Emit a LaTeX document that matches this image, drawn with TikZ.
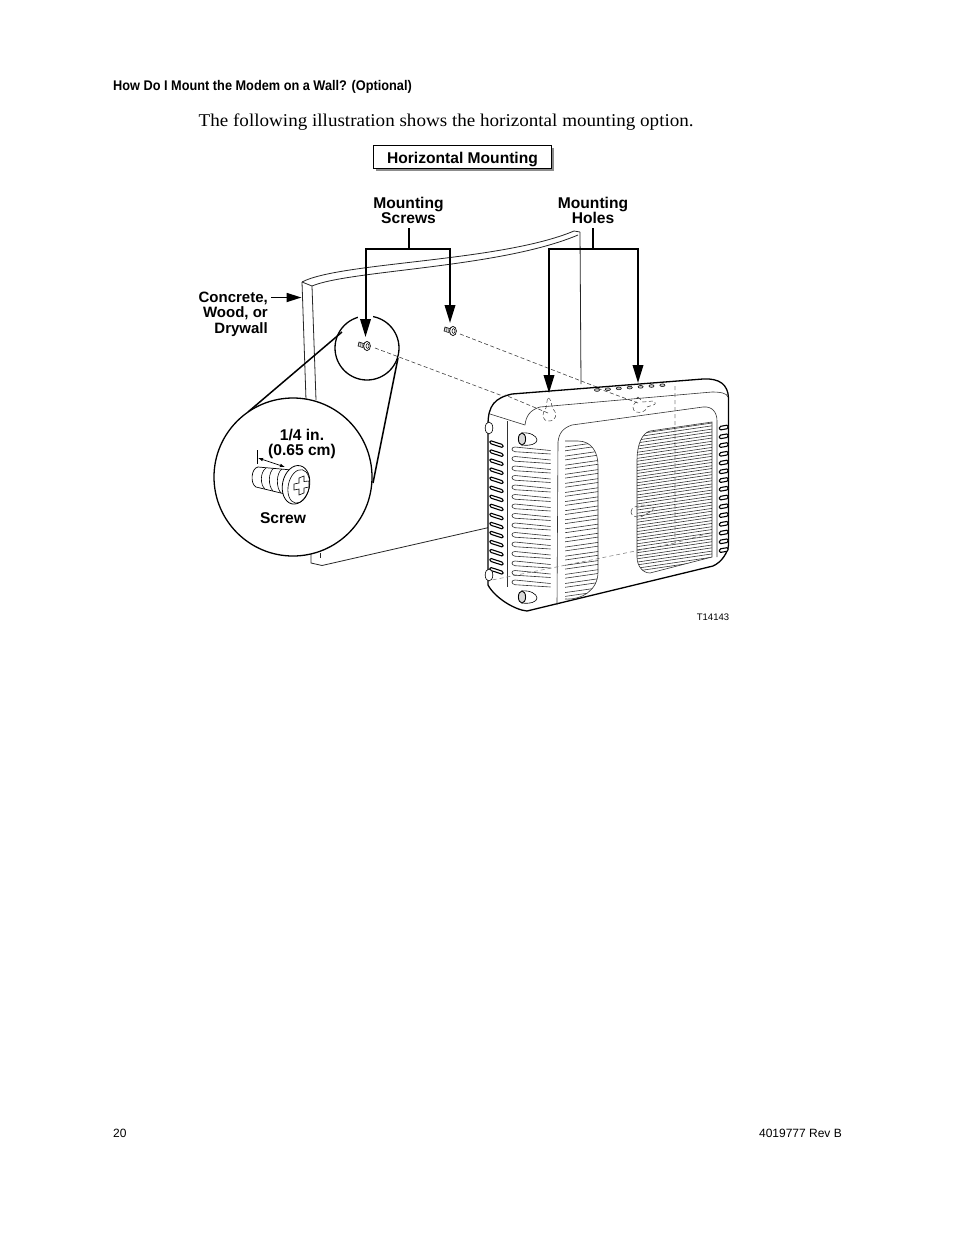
\documentclass[tikz,border=0pt]{standalone}
\usepackage{fontspec}
\setmainfont{Liberation Serif}
\setsansfont{Liberation Sans}
\newfontfamily\narrowbold[FakeStretch=0.91]{Liberation Sans Bold}
\newfontfamily\introfont[FakeStretch=1.06]{Liberation Serif}
\usetikzlibrary{arrows.meta}
\tikzset{
  lbl/.style={font=\sffamily\bfseries\fontsize{15.6}{15}\selectfont,inner sep=0pt,align=center},
  lblr/.style={font=\sffamily\bfseries\fontsize{15}{15.5}\selectfont,inner sep=0pt,align=right,anchor=east},
  callout/.style={line width=2pt,-{Triangle[length=18pt,width=10.5pt]}},
  wall/.style={line width=0.8pt,black!85},
  body/.style={line width=1.3pt,black},
  fine/.style={line width=0.6pt,black!80},
  hidden/.style={line width=0.6pt,dash pattern=on 4pt off 2.5pt,black!75},
  hiddengray/.style={line width=0.55pt,dash pattern=on 4pt off 3pt,black!50},
  ridge/.style={line width=1.1pt,black,fill=white,rounded corners=1.2pt},
}
\newcommand{\tinyscrew}[2]{%
  \draw[line width=0.5pt,fill=black!45] (#1-7,#2-3) -- (#1-1,#2-1) -- (#1-2,#2+3) -- (#1-8,#2+1) -- cycle;
  \foreach \d in {-6,-4,-2}{\draw[line width=0.5pt,white] (#1+\d,#2-2.2+0.3*\d+1.8) -- (#1+\d-0.9,#2+2.4+0.3*\d+1.8-0.8);}
  \draw[line width=0.7pt,fill=white] (#1+1,#2+1) ellipse (3.4pt and 4.6pt);
  \draw[line width=0.5pt] (#1+1.5,#2+1) ellipse (1.5pt and 2.4pt);
}
\begin{document}
\begin{tikzpicture}[x=1pt,y=-1pt]
\useasboundingbox[fill=white] (0,0) rectangle (954,1235);

% page text
\node[anchor=west,inner sep=0pt,font=\narrowbold\fontsize{14}{14}\selectfont] (head) at (113,87) {How Do I Mount the Modem on a Wall? (Optional)};
\node[anchor=west,inner sep=0pt,font=\introfont\fontsize{18}{18}\selectfont] (intro) at (198.5,122.5) {The following illustration shows the horizontal mounting option.};
\node[anchor=west,inner sep=0pt,font=\sffamily\fontsize{12}{12}\selectfont] (pageno) at (113,1133) {20};
\node[anchor=east,inner sep=0pt,font=\sffamily\fontsize{12}{12}\selectfont] (docno) at (842,1133) {4019777 Rev B};

% title box
\fill[black!45] (375.5,147.5) rectangle (554,171);
\node[draw,line width=1.5pt,fill=white,minimum width=178pt,minimum height=23pt,inner sep=0pt] (title) at (462.5,157) {};
\node[inner sep=0pt,font=\sffamily\bfseries\fontsize{15.6}{15}\selectfont] (titletext) at (462.5,159) {Horizontal Mounting};

% wall
\draw[wall] (302,282) .. controls (340,262) and (500,262) .. (574,231) -- (580,232);
\draw[wall] (302,282) -- (312,286) .. controls (350,270) and (500,268) .. (578,235);
\draw[wall] (302,282) -- (306,400);
\draw[wall] (312,286) -- (316,400);
\draw[wall] (580,232) -- (581,384);
\draw[wall] (311,550) -- (311,563) -- (322,565.5) -- (491,527);
\draw[wall] (320,553) -- (320,558);

% zoom circles
\coordinate (t1) at (248,412);
\coordinate (t2) at (342,332);
\coordinate (t3) at (373,483);
\coordinate (t4) at (398,358);
\draw[line width=1.5pt] (t1) -- (t2);
\draw[line width=1.5pt] (t3) -- (t4);
\node[circle,draw,line width=1.3pt,fill=white,minimum size=158pt,inner sep=0pt] (bigc) at (293,477) {};
\node[circle,draw,line width=1.3pt,minimum size=64pt,inner sep=0pt] (smallc) at (367,348) {};
\fill[white] (358,312) rectangle (373,320);

% dashed leaders
\coordinate (d1) at (375,348);
\coordinate (d2) at (548,413);
\coordinate (d3) at (460,334);
\coordinate (d4) at (638,403);
\draw[hidden] (d1) -- (d2);
\draw[hidden] (d3) -- (d4);

% modem outline
\filldraw[body,fill=white] (488,425) .. controls (488,405) and (495,398) .. (512,394)
  -- (703,379) .. controls (720,378) and (728,385) .. (728.5,398)
  -- (728.5,545) .. controls (728,552) and (722,562) .. (713,566)
  -- (527,611) .. controls (515,610) and (495,598) .. (488,585) -- cycle;
\draw[hidden] (548,413) -- (505,395);
\draw[hidden] (638,403) -- (597,388);
% top face
\draw[fine] (490,414) -- (525,425);
\draw[fine] (525,425) .. controls (526,416) and (530,410) .. (540,407) -- (712,392) .. controls (720,392) and (727,393) .. (728,397);
\draw[fine] (507,421) -- (507,587);
\draw[fine] (558,442) .. controls (559,433) and (563,428) .. (572,425) -- (703,407) .. controls (712,406) and (717,412) .. (717,421) -- (717,557);
\draw[fine] (558,442) -- (557,605);

% LEDs
\foreach \i in {0,...,6}{\draw[line width=0.5pt,fill=black!25] (597+\i*10.9,390-\i*0.8) ellipse (2.6pt and 1.4pt);}

% hidden wall-mount keyholes and edges
\draw[hidden,line width=0.5pt] (548,398) .. controls (551,398) and (551,404) .. (553,409) .. controls (558,414) and (556,421) .. (549,421) .. controls (542,421) and (541,414) .. (546,408) .. controls (547,404) and (547,398) .. (548,398);
\draw[hidden,line width=0.5pt] (638,397) .. controls (641,398) and (641,402) .. (643,402) -- (653,401) .. controls (656,402) and (656,405) .. (653,405) -- (647,407) .. controls (646,412) and (640,413) .. (636,412) .. controls (632,410) and (632,405) .. (636,402) .. controls (636,400) and (636,397) .. (638,397);
\draw[hidden,line width=0.5pt] (631,512) .. controls (631,507) and (637,506) .. (642,505) -- (650,505) .. controls (654,506) and (654,509) .. (652,511) -- (646,514) .. controls (642,518) and (632,519) .. (631,512);
\draw[hiddengray] (675,386) -- (675,543) -- (713,532);
\draw[hiddengray] (675,543) -- (492,580);

% left side ribs
\foreach \i in {0,...,14}{
  \pgfmathsetmacro{\yy}{450.5+\i*9.5}
  \draw[fine] (550.5,\yy) -- (515,\yy-3.5) .. controls (511,\yy-3.5) and (511,\yy+0.5) .. (515,\yy+1.2) -- (550.5,\yy+3.5);
}
% middle vent
\begin{scope}
\clip (565,441) -- (578,441) .. controls (592,441) and (598,453) .. (598,465) -- (598,572) .. controls (598,590) and (582,600) .. (565,599) -- cycle;
\foreach \i in {0,...,17}{
  \pgfmathsetmacro{\yy}{447+\i*9.1}
  \draw[fine] (565,\yy) -- (600,\yy-5);
  \draw[fine] (565,\yy+3.8) -- (600,\yy-1.2);
}
\end{scope}
\draw[fine] (565,441) -- (578,441) .. controls (592,441) and (598,453) .. (598,465) -- (598,572) .. controls (598,590) and (582,600) .. (565,599);
% right vent
\begin{scope}
\clip (650,431) -- (712,422) -- (712,557) -- (650,573) .. controls (642,573) and (637,565) .. (637,557) -- (637,460) .. controls (637,445) and (642,433) .. (650,431) -- cycle;
\foreach \i in {0,...,22}{
  \pgfmathsetmacro{\yy}{423+\i*6.1}
  \draw[line width=0.6pt,black!80] (637,\yy+11) -- (712,\yy);
  \draw[line width=0.6pt,black!80] (637,\yy+13.8) -- (712,\yy+2.8);
}
\end{scope}
\draw[fine] (650,431) -- (712,422) -- (712,557) -- (650,573) .. controls (642,573) and (637,565) .. (637,557) -- (637,460) .. controls (637,445) and (642,433) .. (650,431) -- cycle;

% edge ridges
\foreach \i in {0,...,14}{
  \pgfmathsetmacro{\yy}{440.5+\i*9.05}
  \draw[ridge] (490,\yy) -- (503,\yy+4.2) -- (503,\yy+7.2) -- (490,\yy+3) -- cycle;
}
\foreach \i in {0,...,14}{
  \pgfmathsetmacro{\yy}{425+\i*8.75}
  \draw[ridge] (719.5,\yy+1.5) -- (728,\yy) -- (728,\yy+3.6) -- (719.5,\yy+5.1) -- cycle;
}
% feet
\draw[line width=0.6pt,fill=white] (489,428) ellipse (3.8pt and 6pt);
\draw[line width=0.6pt,fill=white] (489,575) ellipse (3.8pt and 6pt);
\draw[line width=0.6pt,fill=white] (522,433) .. controls (530,432) and (537,436) .. (537,440) .. controls (537,444) and (530,446) .. (522,445) -- cycle;
\draw[line width=0.9pt,fill=black!15] (522,439) ellipse (3.6pt and 6pt);
\draw[line width=0.6pt,fill=white] (522,591) .. controls (530,590) and (537,594) .. (537,598) .. controls (537,602) and (530,604) .. (522,603) -- cycle;
\draw[line width=0.9pt,fill=black!15] (522,597) ellipse (3.6pt and 6pt);

% tiny screws
\tinyscrew{366}{345}
\tinyscrew{452}{330}

% large screw
\draw[line width=0.7pt,fill=white] (258,467) .. controls (251,468) and (250,484) .. (256,487) -- (285,494) -- (292,470) -- cycle;
\draw[line width=0.6pt] (266,468) .. controls (260,472) and (260,485) .. (265,489);
\draw[line width=0.6pt] (274,468) .. controls (268,472) and (268,486) .. (273,491);
\draw[line width=0.6pt] (282,469) .. controls (276,473) and (276,488) .. (281,493);
\begin{scope}[rotate around={-12:(297,485)}]
\draw[line width=0.8pt,fill=white] (296,485) ellipse (13.5pt and 19.5pt);
\draw[line width=0.6pt] (299,486) ellipse (10.5pt and 17pt);
\end{scope}
\draw[line width=0.6pt,fill=white] (299,483) -- (299,478) -- (304,476) -- (304,481.5) -- (309,481) -- (309,487) -- (304,488) -- (304,493) -- (299,495) -- (299,489) -- (294,490) -- (294,484) -- cycle;
\coordinate (dima) at (258,458);
\coordinate (dimb) at (285,467);
\draw[line width=0.7pt,{Latex[length=5pt,width=3.5pt]}-{Latex[length=5pt,width=3.5pt]}] (dima) -- (dimb);
\draw[line width=0.5pt] (257,450) -- (257,464);

% labels
\node[lbl] (ms) at (408.5,210.5) {Mounting\\[-0.5pt]Screws};
\node[lbl] (mh) at (593,210.5) {Mounting\\[-0.5pt]Holes};
\node[lblr] (cw) at (268,314) {Concrete,\\Wood, or\\Drywall};
\node[lbl,font=\sffamily\bfseries\fontsize{15.6}{15}\selectfont] (dim) at (302,444) {1/4 in.\\(0.65 cm)};
\node[lbl,font=\sffamily\bfseries\fontsize{15.6}{14}\selectfont] (scr) at (283,518) {Screw};
\node[inner sep=0pt,font=\sffamily\fontsize{9.5}{9.5}\selectfont] (tnum) at (713,617.5) {T14143};

% callouts
\coordinate (msj) at (408.5,249);
\coordinate (mhj) at (593,249);
\coordinate (s1) at (365.5,337);
\coordinate (s2) at (450,323);
\coordinate (h1) at (549,393);
\coordinate (h2) at (638,383);
\coordinate (cwa) at (271,297.5);
\coordinate (cwb) at (301.5,297.5);
\draw[line width=2pt] (408.5,228) -- (msj);
\draw[line width=2pt] (593,228) -- (mhj);
\draw[callout] (msj) -| (s1);
\draw[callout] (msj) -| (s2);
\draw[callout] (mhj) -| (h1);
\draw[callout] (mhj) -| (h2);
\draw[line width=1.7pt,-{Triangle[length=15pt,width=9pt]}] (cwa) -- (cwb);
\end{tikzpicture}
\end{document}
